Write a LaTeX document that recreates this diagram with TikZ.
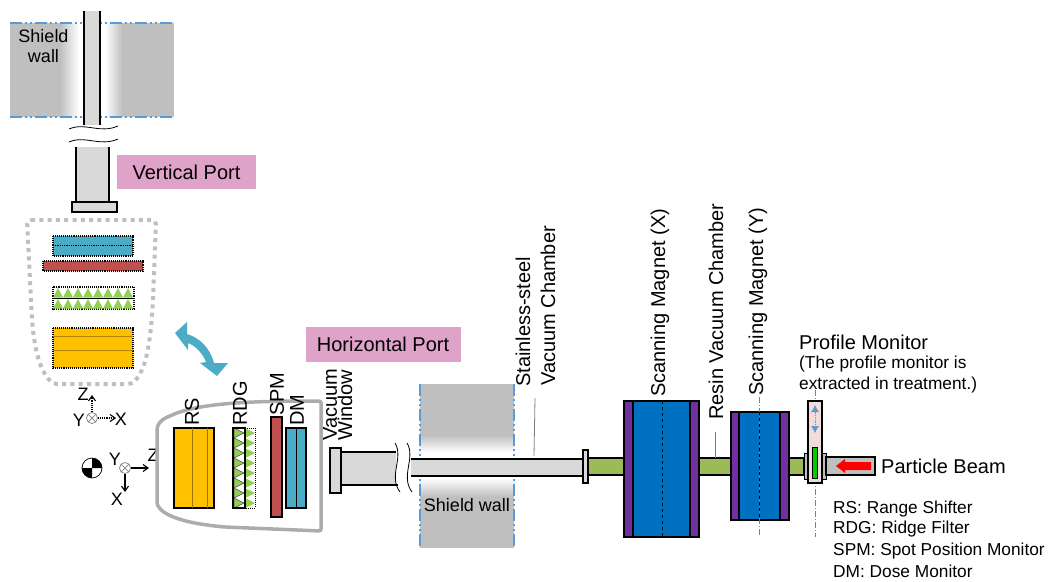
\documentclass[tikz,border=0pt]{standalone}
\usepackage{fontspec}
\setmainfont{Liberation Sans}
\usetikzlibrary{arrows.meta}
\definecolor{wallgray}{HTML}{BFBFBF}
\definecolor{pipegray}{HTML}{D9D9D9}
\definecolor{portpink}{HTML}{DFA3C9}
\definecolor{dmblue}{HTML}{4BACC6}
\definecolor{spmred}{HTML}{C0504D}
\definecolor{rdggreen}{HTML}{92D050}
\definecolor{rsyellow}{HTML}{FFC000}
\definecolor{tubegreen}{HTML}{9BBB59}
\definecolor{magblue}{HTML}{0070C0}
\definecolor{magpurple}{HTML}{7030A0}
\definecolor{wallblue}{HTML}{5B9BD5}
\definecolor{monpink}{HTML}{F2DCDB}
\tikzset{
    big/.style={font=\fontsize{20}{22}\selectfont, inner sep=0pt},
    small/.style={font=\fontsize{17.3}{19}\selectfont, inner sep=0pt, anchor=west},
    axlabel/.style={font=\fontsize{18}{20}\selectfont, inner sep=0pt},
    up/.style={big, rotate=90, anchor=west},
    wallline/.style={draw=wallblue, line width=1.2pt, dash pattern=on 12pt off 3pt on 2pt off 3pt on 2pt off 3pt},
    part/.style={draw=black, line width=1.1pt},
    dotpart/.style={draw=black, line width=1.1pt, densely dotted},
    axis/.style={-{Straight Barb[length=5pt,width=7pt]}, line width=1.1pt},
    leader/.style={draw=gray, line width=0.8pt},
    center/.style={draw=gray, line width=0.7pt, dash pattern=on 6pt off 2pt on 1pt off 2pt}
}
\begin{document}
\begin{tikzpicture}[x=1pt, y=-1pt]
    \useasboundingbox (0, 0) rectangle (1048, 581);
    % shield wall, top
    \fill [wallgray] (10, 23) rectangle (60, 117);
    \fill [left color=wallgray, right color=white] (60, 23) rectangle (79, 117);
    \fill [left color=white, right color=wallgray] (105, 23) rectangle (122, 117);
    \fill [wallgray] (122, 23) rectangle (174, 117);
    \draw [wallline] (10, 23) -- (174, 23);
    \draw [wallline] (10, 117) -- (174, 117);
    \node [axlabel, align=center] (shieldtop) at (43.5, 46.5) {Shield\\wall};
    % vertical port
    \fill [pipegray] (84, 11) rectangle (100, 125);
    \draw [part] (84, 11) -- (84, 125);
    \draw [part] (100, 11) -- (100, 125);
    \draw [black, line width=0.8pt] (69, 129) .. controls (85, 122) and (100, 134) .. (118, 126);
    \draw [black, line width=0.8pt] (69, 142) .. controls (85, 135) and (100, 147) .. (118, 139);
    \fill [pipegray] (76, 147) rectangle (109, 202);
    \draw [part] (76, 147) -- (76, 202);
    \draw [part] (109, 147) -- (109, 202);
    \draw [part, fill=pipegray] (72, 202) rectangle ++(45, 10);
    \node [big, fill=portpink, minimum width=139pt, minimum height=34pt] (vport) at (186.5, 172) {Vertical Port};
    % nozzle at the vertical port
    \draw [draw=wallgray, line width=4pt, dash pattern=on 4pt off 4.3pt, rounded corners=4pt]
        (27, 220) -- (156, 220) -- (153, 300) .. controls (150, 350) and (145, 370) .. (132, 384)
        -- (53, 384) .. controls (40, 370) and (33, 350) .. (31, 300) -- cycle;
    \draw [dotpart, fill=dmblue] (53, 236) rectangle ++(80, 20);
    \draw [black, densely dotted, line width=0.8pt] (53, 245.5) -- (133, 245.5);
    \draw [dotpart, fill=spmred] (43, 261) rectangle ++(100, 10);
    \draw [dotpart] (53, 287) rectangle ++(81, 22);
    \foreach \tx in {58, 68, ..., 128} {
        \fill [rdggreen] (\tx, 288) -- ++(5, 9.5) -- ++(-10, 0) -- cycle;
        \fill [rdggreen] (\tx, 299) -- ++(5, 9.5) -- ++(-10, 0) -- cycle;
    }
    \draw [black, line width=0.8pt] (53, 298) -- (134, 298);
    \draw [dotpart, fill=rsyellow] (53, 328) rectangle ++(80, 40);
    \draw [rsyellow!70!black, line width=1pt] (53, 336) -- (133, 336);
    \draw [rsyellow!70!black, line width=1pt] (53, 350) -- (133, 350);
    % swing arrow
    \fill [dmblue] (175, 333) -- (187, 322) -- (187, 334) .. controls (200, 338) and (210, 348) .. (214, 363)
        -- (228, 363) -- (217, 376) -- (200, 363) -- (206, 362) .. controls (203, 354) and (196, 346) .. (188, 343)
        -- (188, 350) -- cycle;
    % axes at the vertical port
    \draw [gray, line width=0.7pt] (92, 418) circle (5.5);
    \draw [gray, line width=0.7pt] (88.1, 414.1) -- (95.9, 421.9) (88.1, 421.9) -- (95.9, 414.1);
    \coordinate (vaxisz) at (92, 395);
    \coordinate (vaxisx) at (116, 418);
    \draw [axis, densely dotted] (92, 412) -- (vaxisz);
    \draw [axis, densely dotted] (98, 418) -- (vaxisx);
    \node [axlabel] (vlabelz) at (83, 394) {Z};
    \node [axlabel] (vlabelx) at (121, 419) {X};
    \node [axlabel] (vlabely) at (79, 420) {Y};
    % isocentre and axes at the horizontal port
    \draw [black, line width=0.7pt] (92, 468) circle (10);
    \fill [black] (92, 468) -- (82, 468) arc (180:90:10) -- cycle;
    \fill [black] (92, 468) -- (102, 468) arc (0:-90:10) -- cycle;
    \draw [gray, line width=0.7pt] (125, 468) circle (5.5);
    \draw [gray, line width=0.7pt] (121.1, 464.1) -- (128.9, 471.9) (121.1, 471.9) -- (128.9, 464.1);
    \coordinate (haxisz) at (149, 468);
    \coordinate (haxisx) at (125, 492);
    \draw [axis] (131, 468) -- (haxisz);
    \draw [axis] (125, 474) -- (haxisx);
    \node [axlabel] (hlabelz) at (153, 455) {Z};
    \node [axlabel] (hlabelx) at (117, 499) {X};
    \node [axlabel] (hlabely) at (115, 459) {Y};
    % nozzle at the horizontal port
    \draw [draw=wallgray!90!black, line width=3.5pt, rounded corners=2pt]
        (321, 401) .. controls (260, 401) and (200, 402) .. (170, 416) .. controls (160, 420) and (157, 425) .. (157, 432)
        -- (157, 500) .. controls (157, 510) and (170, 522) .. (225, 527) -- (321, 531) -- cycle;
    \draw [part, fill=rsyellow] (174, 428) rectangle ++(40, 80);
    \draw [rsyellow!60!black, line width=1pt] (192, 428) -- (192, 508);
    \draw [rsyellow!60!black, line width=1pt] (207, 428) -- (207, 508);
    \node [up] (rslabel) at (192, 426) {RS};
    \foreach \ty in {428, 438, ..., 498} {
        \draw [draw=black!70, line width=0.6pt, fill=rdggreen] (234, \ty) -- ++(10, 5) -- ++(-10, 5) -- cycle;
        \fill [rdggreen] (245, \ty) -- ++(10, 5) -- ++(-10, 5) -- cycle;
    }
    \draw [part] (233, 428) rectangle ++(12, 80);
    \draw [black, densely dotted, line width=1pt] (245, 428) -- (255, 428) -- (255, 508) -- (245, 508);
    \node [up] (rdglabel) at (240, 426) {RDG};
    \draw [part, fill=spmred] (271, 417) rectangle ++(11, 100);
    \node [up] (spmlabel) at (277, 416) {SPM};
    \draw [part, fill=dmblue] (286, 428) rectangle ++(20, 80);
    \draw [black, line width=1pt] (296, 428) -- (296, 508);
    \node [up] (dmlabel) at (297, 426) {DM};
    % horizontal port
    \node [big, fill=portpink, minimum width=155pt, minimum height=35pt] (hport) at (383, 344.5) {Horizontal Port};
    \node [up] (vaclabel) at (330, 441) {Vacuum};
    \node [up] (winlabel) at (345, 441) {Window};
    \fill [pipegray] (341, 452) rectangle (396, 485);
    \draw [part] (341, 452) -- (396, 452);
    \draw [part] (341, 485) -- (398, 485);
    \draw [part, fill=pipegray] (330, 448) rectangle ++(11, 45);
    \draw [black, line width=0.8pt] (395, 443) .. controls (404, 458) and (388, 476) .. (400, 492);
    \draw [black, line width=0.8pt] (407, 443) .. controls (416, 458) and (400, 476) .. (412, 492);
    % shield wall, beam line
    \fill [wallgray] (420, 384) rectangle (514, 435);
    \fill [top color=wallgray, bottom color=white] (420, 435) rectangle (514, 452);
    \fill [top color=white, bottom color=wallgray] (420, 478) rectangle (514, 497);
    \fill [wallgray] (420, 497) rectangle (514, 548);
    \draw [wallline] (420, 384) -- (420, 548);
    \draw [wallline] (514, 384) -- (514, 548);
    \node [axlabel] (shieldbot) at (467, 505) {Shield wall};
    % stainless-steel chamber
    \fill [pipegray] (411, 459) rectangle (583, 476);
    \draw [part] (411, 459) -- (583, 459);
    \draw [part] (411, 476) -- (583, 476);
    \node [up] (steellabel) at (523, 387) {Stainless-steel};
    \node [up] (chamblabel) at (548, 386) {Vacuum Chamber};
    \draw [leader] (535, 398) -- (534, 456);
    % resin chamber
    \draw [part, fill=tubegreen] (588, 458) rectangle ++(36, 17);
    \draw [part, fill=tubegreen] (699, 458) rectangle ++(32, 17);
    \draw [part, fill=tubegreen] (789, 458) rectangle ++(15, 17);
    \draw [part, fill=pipegray] (583, 450) rectangle ++(5, 33);
    \node [up] (resinlabel) at (716, 420) {Resin Vacuum Chamber};
    \draw [leader] (715, 432) -- (715, 458);
    % scanning magnets
    \draw [part, fill=magpurple] (624, 401) rectangle ++(75, 136);
    \draw [part, fill=magblue] (633, 401) rectangle ++(57, 136);
    \draw [black, dashed, line width=0.7pt] (662, 401) -- (662, 537);
    \node [up] (magxlabel) at (660, 397) {Scanning Magnet (X)};
    \draw [part, fill=magpurple] (731, 412) rectangle ++(58, 108);
    \draw [part, fill=magblue] (739, 412) rectangle ++(41, 108);
    \draw [center] (759, 397) -- (759, 535);
    \draw [black, dashed, line width=0.7pt] (759, 412) -- (759, 520);
    \node [up] (magylabel) at (758, 396) {Scanning Magnet (Y)};
    % profile monitor
    \draw [center] (815, 390) -- (815, 537);
    \draw [draw=black, line width=1pt, fill=gray!50] (804, 453) rectangle ++(4, 26);
    \draw [draw=black, line width=1pt, fill=gray!50] (822, 453) rectangle ++(4, 26);
    \draw [part, fill=monpink] (808, 401) rectangle ++(14, 82);
    \draw [draw=black, line width=0.8pt, fill=green!80!black] (812, 447) rectangle ++(5, 31);
    \draw [{Latex[length=7pt,width=8pt]}-{Latex[length=7pt,width=8pt]}, wallblue, line width=0.8pt, densely dotted] (815, 405) -- (815, 433);
    \node [big, anchor=west] (pmlabel) at (799, 342) {Profile Monitor};
    \node [small] (pmnote) at (799, 364) {(The profile monitor is};
    \node [small] (pmnotetwo) at (799, 385) {extracted in treatment.)};
    % particle beam
    \draw [part, fill=wallgray] (826, 457) rectangle ++(49, 18);
    \fill [red] (836, 466) -- (845, 459) -- (845, 462) -- (871, 462) -- (871, 470) -- (845, 470) -- (845, 473) -- cycle;
    \node [big, anchor=west] (beamlabel) at (881, 466) {Particle Beam};
    % list of parts
    \node [small] (rsitem) at (833, 509) {RS: Range Shifter};
    \node [small] (rdgitem) at (833, 529) {RDG: Ridge Filter};
    \node [small] (spmitem) at (833, 551) {SPM: Spot Position Monitor};
    \node [small] (dmitem) at (833, 571) {DM: Dose Monitor};
\end{tikzpicture}
\end{document}
